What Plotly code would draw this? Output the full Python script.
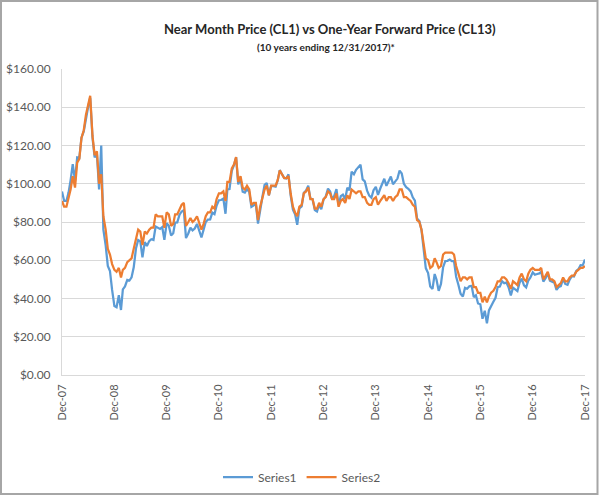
import calendar
import datetime as dt
import plotly.graph_objects as go

# ---- data -------------------------------------------------------------
years = list(range(2008, 2018))
tick_years = list(range(2007, 2018))
tick_labels = ["Dec-07", "Dec-08", "Dec-09", "Dec-10", "Dec-11", "Dec-12",
               "Dec-13", "Dec-14", "Dec-15", "Dec-16", "Dec-17"]

# semi-monthly observations (15th and month end), starting 12/31/2007
series1 = [
    96.0,
    # 2008
    91, 91, 95.5, 101.8, 110.2, 101.6, 113.8, 113.5, 124.1, 127.4, 134.9, 140.0,
    145.0, 124.1, 113.8, 115.5, 97.0, 120.0, 76.0, 67.8, 57.0, 54.4, 44.5, 36.0,
    # 2009
    35.4, 41.7, 34.0, 44.8, 46.3, 49.7, 49.4, 51.1, 56.3, 66.3, 70.6, 69.9,
    61.5, 69.5, 67.5, 70.0, 71.0, 70.6, 77.6, 77.0, 76.4, 77.3, 70.7, 79.4,
    # 2010
    78.0, 72.9, 74.1, 79.7, 79.8, 83.8, 85.5, 86.2, 71.6, 74.0, 77.0, 75.6,
    76.6, 79.0, 75.4, 71.9, 76.0, 80.0, 81.3, 81.4, 84.9, 84.1, 88.6, 91.4,
    # 2011
    91.5, 92.2, 84.3, 97.0, 97.2, 106.7, 109.7, 113.9, 99.7, 102.7, 95.8, 95.4,
    97.2, 95.7, 87.9, 88.8, 89.4, 79.2, 86.8, 93.2, 99.4, 100.4, 93.9, 98.8,
    # 2012
    98.7, 98.5, 101.8, 107.1, 105.1, 103.0, 102.8, 104.9, 94.0, 86.5, 84.0, 78.5,
    87.1, 88.1, 95.3, 96.5, 99.0, 92.2, 91.9, 86.2, 85.5, 88.9, 86.7, 91.8,
    # 2013
    93.3, 97.5, 95.9, 92.1, 93.5, 97.2, 88.7, 93.5, 94.3, 92.0, 97.9, 96.6,
    106.3, 105.0, 107.3, 108.5, 110.0, 102.3, 101.2, 96.4, 93.8, 92.7, 96.6, 98.4,
    # 2014
    94.2, 97.5, 100.3, 102.6, 98.9, 101.6, 103.8, 99.7, 101.5, 102.7, 106.9, 105.4,
    100.0, 98.2, 97.4, 96.0, 92.9, 91.2, 81.8, 80.5, 75.8, 66.2, 55.9, 53.3,
    # 2015
    46.3, 45.0, 52.8, 49.8, 44.0, 47.6, 56.4, 59.6, 59.7, 60.3, 59.5, 59.5,
    51.4, 47.1, 42.5, 41.0, 45.6, 45.1, 46.4, 46.6, 40.7, 41.7, 37.4, 37.0,
    # 2016
    29.4, 33.6, 27.0, 33.8, 36.3, 38.3, 40.4, 45.9, 46.2, 49.1, 48.0, 48.3,
    45.9, 41.6, 45.7, 44.7, 43.9, 48.2, 50.4, 46.9, 45.8, 49.4, 51.0, 53.7,
    # 2017
    52.4, 52.8, 53.1, 54.0, 48.9, 50.6, 53.2, 49.3, 48.9, 48.3, 44.5, 46.0,
    46.5, 50.2, 47.6, 47.2, 49.9, 51.7, 51.5, 54.4, 55.3, 57.4, 57.3, 60.4,
]

series2 = [
    91.0,
    # 2008
    88, 88, 92, 97, 104, 98, 111, 113, 124, 128, 136, 141,
    146, 125, 115, 117, 100, 105, 83, 76, 66, 63, 58, 55,
    # 2009
    54, 56, 51, 55, 56, 59, 60, 61, 66, 72, 76, 75,
    68, 75, 74, 76, 77, 77, 84, 83, 83, 83, 77, 85,
    # 2010
    84, 78, 79, 84, 84, 87, 89, 90, 78, 80, 82, 80,
    81, 83, 80, 76, 79, 83, 85, 85, 88, 87, 92, 95,
    # 2011
    95, 96, 91, 101, 101, 108, 110, 114, 101, 104, 98, 97,
    99, 97, 89, 90, 90, 81, 88, 93, 97, 99, 94, 99,
    # 2012
    99, 99, 102, 107, 105, 103, 103, 104, 95, 88, 85, 83,
    88, 89, 95, 96, 98, 92, 92, 87, 87, 90, 88, 92,
    # 2013
    93, 96, 95, 92, 92, 95, 88, 91, 92, 90, 94, 92,
    97, 96, 95, 96, 96, 93, 93, 90, 89, 89, 92, 93,
    # 2014
    89, 91, 93, 94, 91, 93, 93, 91, 93, 94, 97, 97,
    93, 93, 92, 91, 89, 88, 81, 80, 76, 68, 61, 60,
    # 2015
    56, 57, 61, 59, 56, 57, 63, 64, 64, 64, 64, 63,
    57, 53, 49, 51, 51, 50, 51, 51, 46, 46, 43, 43,
    # 2016
    38, 41, 38, 41, 43, 44, 46, 49, 49, 51, 51, 50,
    48, 45, 49, 48, 47, 51, 53, 50, 49, 53, 55, 56,
    # 2017
    55, 55, 55, 56, 50, 52, 54, 50, 50, 49, 46, 47,
    48, 51, 49, 49, 51, 52, 52, 54, 55, 56, 56, 57,
]

# observation dates: 12/31/2007, then the 15th and last day of every month
dates = [dt.date(2007, 12, 31)]
for y in years:
    for m in range(1, 13):
        dates.append(dt.date(y, m, 15))
        dates.append(dt.date(y, m, calendar.monthrange(y, m)[1]))

tick_dates = [dt.date(y, 12, 31) for y in tick_years]

# ---- figure -----------------------------------------------------------
FONT = "Lato"
W, H = 600, 496
ML, MR, MT, MB = 62, 15, 69, 121
pw, ph = W - ML - MR, H - MT - MB

fig = go.Figure()
fig.add_trace(go.Scatter(x=dates, y=series1, name="Series1", mode="lines",
                         line=dict(color="#5B9BD5", width=2.25)))
fig.add_trace(go.Scatter(x=dates, y=series2, name="Series2", mode="lines",
                         line=dict(color="#ED7D31", width=2.25)))

fig.update_layout(
    width=W, height=H,
    margin=dict(l=ML, r=MR, t=MT, b=MB, autoexpand=False),
    paper_bgcolor="white", plot_bgcolor="white",
    font=dict(family=FONT, size=12, color="#595959"),
    showlegend=True,
    legend=dict(orientation="h", xref="container", yref="container",
                x=302 / W, xanchor="center",
                y=1 - 477 / H, yanchor="middle",
                font=dict(family=FONT, size=12, color="#595959"),
                itemwidth=30, tracegroupgap=0),
    xaxis=dict(
        type="date", automargin=False,
        range=[tick_dates[0], tick_dates[-1]],
        tickvals=tick_dates, ticktext=tick_labels,
        tickangle=-90, showgrid=False, zeroline=False,
        showline=True, linecolor="#d9d9d9", linewidth=1,
        ticks="outside", ticklen=4, tickcolor="rgba(0,0,0,0)",
        tickfont=dict(family=FONT, size=11, color="#595959"),
    ),
    yaxis=dict(
        automargin=False,
        range=[0, 160], dtick=20, tickprefix="$", tickformat=".2f",
        showgrid=True, gridcolor="#d9d9d9", gridwidth=1,
        zeroline=False, showline=True, linecolor="#d9d9d9", linewidth=1,
        ticks="outside", ticklen=8, tickcolor="rgba(0,0,0,0)",
        tickfont=dict(family=FONT, size=12, color="#595959"),
    ),
    annotations=[
        dict(text="<b>Near Month Price (CL1) vs One-Year Forward Price (CL13)</b>",
             xref="paper", yref="paper",
             x=(330 - ML) / pw, y=1 + (MT - 29) / ph,
             xanchor="center", yanchor="middle", showarrow=False,
             font=dict(family=FONT, size=13, color="#262626")),
        dict(text="<b>(10 years ending 12/31/2017)*</b>",
             xref="paper", yref="paper",
             x=(326 - ML) / pw, y=1 + (MT - 47) / ph,
             xanchor="center", yanchor="middle", showarrow=False,
             font=dict(family=FONT, size=10, color="#262626")),
    ],
    shapes=[
        dict(type="rect", xref="paper", yref="paper",
             x0=-(ML - 1) / pw, x1=1 + (MR - 2.5) / pw,
             y0=-(MB - 2) / ph, y1=1 + (MT - 1) / ph,
             line=dict(color="#a6a6a6", width=2), fillcolor="rgba(0,0,0,0)",
             layer="below"),
    ],
)

fig.write_html(
    "out.html",
    config={"displayModeBar": False},
    post_script="document.body.style.margin='0';document.body.style.padding='0';"
                "document.body.style.overflow='hidden';",
)
